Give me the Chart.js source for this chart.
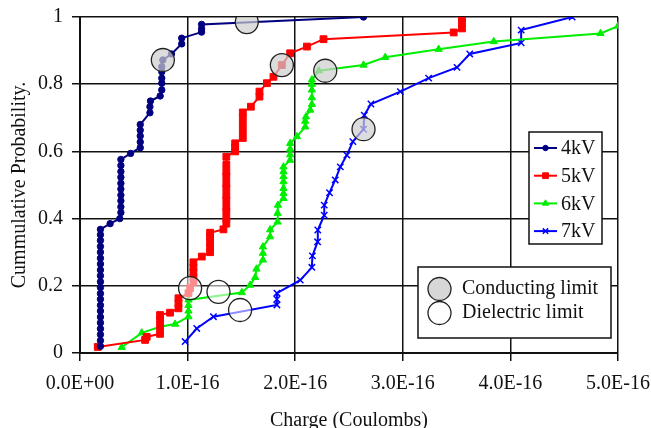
<!DOCTYPE html>
<html>
<head>
<meta charset="utf-8">
<script src="https://cdn.jsdelivr.net/npm/chart.js@4/dist/chart.umd.min.js"></script>
<style>
  html, body { margin: 0; padding: 0; background: #fff; }
  #wrap { width: 651px; height: 428px; }
</style>
</head>
<body>
<div id="wrap"><canvas id="c" width="651" height="428"></canvas></div>
<script>
// Charge values are in units of 1E-16 Coulombs
const xTickLabels = ["0.0E+00", "1.0E-16", "2.0E-16", "3.0E-16", "4.0E-16", "5.0E-16"];
const yTickLabels = ["0", "0.2", "0.4", "0.6", "0.8", "1"];
const seriesNames = ["4kV", "5kV", "6kV", "7kV"];

const charge4kV = [0.19,0.19,0.19,0.19,0.19,0.19,0.19,0.19,0.19,0.19,0.19,0.19,0.19,0.19,0.19,0.19,0.19,0.19,0.19,0.19,0.19,
  0.28,0.37,0.38,0.38,0.38,0.38,0.38,0.38,0.38,0.38,0.38,0.38,
  0.47,0.56,0.56,0.56,0.56,0.56,0.65,0.65,0.655,
  0.745,0.76,0.76,0.76,0.76,0.76,0.77,0.85,0.945,0.945,1.13,1.13,1.13,2.635];
const prob4kV = [0.020,0.037,0.055,0.072,0.090,0.107,0.125,0.142,0.160,0.177,0.195,0.212,0.230,0.247,0.265,0.282,0.300,0.317,0.335,0.352,0.368,
  0.385,0.400,0.418,0.435,0.453,0.470,0.488,0.505,0.523,0.540,0.558,0.576,
  0.594,0.611,0.628,0.646,0.663,0.680,0.715,0.733,0.750,
  0.765,0.783,0.803,0.818,0.837,0.852,0.872,0.890,0.920,0.937,0.955,0.965,0.978,1.000];

const charge5kV = [0.165,0.605,0.62,0.744,0.744,0.744,0.744,0.837,0.915,0.915,0.915,1.008,1.023,
  1.054,1.054,1.054,1.054,1.054,1.132,1.209,1.209,1.209,1.209,1.209,1.333,
  1.36,1.36,1.36,1.36,1.36,1.36,1.36,1.36,1.36,1.36,1.36,1.36,
  1.442,1.442,1.442,1.513,1.513,1.513,1.513,1.513,1.588,1.668,1.668,1.737,1.798,1.876,1.953,2.109,2.263,3.473,3.55,3.55,3.55];
const prob5kV = [0.018,0.039,0.048,0.057,0.078,0.098,0.113,0.120,0.133,0.148,0.163,0.178,0.193,
  0.210,0.225,0.240,0.255,0.270,0.287,0.300,0.315,0.330,0.345,0.358,0.368,
  0.385,0.400,0.420,0.435,0.455,0.470,0.490,0.505,0.525,0.540,0.560,0.584,
  0.600,0.612,0.624,0.640,0.660,0.680,0.700,0.716,0.733,0.763,0.778,0.803,0.822,0.857,0.892,0.912,0.934,0.954,0.966,0.983,1.000];

const charge6kV = [0.388,0.574,0.744,0.884,1.008,1.008,1.008,1.008,1.504,1.581,1.628,1.64,1.70,1.70,1.70,1.767,1.767,1.836,1.836,1.84,
  1.891,1.891,1.891,1.891,1.891,1.891,1.891,1.953,1.953,1.953,1.953,2.016,2.093,2.093,2.10,2.14,2.155,2.155,2.155,2.155,2.155,
  2.22,2.635,2.837,3.333,3.845,4.837,5.0];
const prob6kV = [0.017,0.060,0.078,0.086,0.108,0.125,0.142,0.158,0.180,0.202,0.225,0.250,0.277,0.297,0.316,0.346,0.367,0.390,0.416,0.440,
  0.460,0.475,0.490,0.510,0.525,0.540,0.554,0.574,0.590,0.607,0.624,0.644,0.673,0.690,0.703,0.723,0.740,0.760,0.783,0.800,0.813,
  0.840,0.857,0.880,0.904,0.927,0.951,0.973];

const charge7kV = [0.977,1.085,1.24,1.83,1.83,1.83,2.047,2.155,2.16,2.208,2.21,2.27,2.27,2.319,2.372,2.419,2.48,2.536,2.635,2.642,2.704,2.977,3.24,3.504,3.622,4.1,4.1,4.574];
const prob7kV = [0.034,0.073,0.108,0.143,0.160,0.178,0.217,0.255,0.289,0.331,0.366,0.410,0.440,0.477,0.515,0.554,0.589,0.629,0.666,0.708,0.741,0.778,0.818,0.850,0.890,0.923,0.961,1.000];

const conductingCharge = [0.77, 1.55, 1.876, 2.279, 2.635];
const conductingProb = [0.872, 0.985, 0.857, 0.840, 0.666];
const dielectricCharge = [1.023, 1.287, 1.488];
const dielectricProb = [0.193, 0.182, 0.128];

const colors = ["#000080", "#ff0000", "#00ee00", "#0000ff"];
const styles = ["circle", "rect", "triangle", "crossRot"];
const radii = [3.2, 4.8, 4.2, 4.5];

function pts(xs, ys) { return xs.map((x, i) => ({ x: x, y: ys[i] })); }

const allX = [charge4kV, charge5kV, charge6kV, charge7kV];
const allY = [prob4kV, prob5kV, prob6kV, prob7kV];

const datasets = seriesNames.map((name, i) => ({
  label: name,
  data: pts(allX[i], allY[i]),
  showLine: true,
  borderColor: colors[i],
  backgroundColor: colors[i],
  borderWidth: 2,
  pointStyle: styles[i],
  pointRadius: radii[i],
  pointBorderWidth: i === 3 ? 1.5 : 1,
  pointBorderColor: colors[i],
  pointBackgroundColor: colors[i],
  order: 1
}));
datasets.push({
  label: "Conducting limit",
  data: pts(conductingCharge, conductingProb),
  showLine: false,
  pointStyle: "circle",
  pointRadius: 11.5,
  pointBorderWidth: 1.3,
  pointBorderColor: "#222",
  pointBackgroundColor: "rgba(205,205,205,0.7)",
  order: -1
});
datasets.push({
  label: "Dielectric limit",
  data: pts(dielectricCharge, dielectricProb),
  showLine: false,
  pointStyle: "circle",
  pointRadius: 11.5,
  pointBorderWidth: 1.3,
  pointBorderColor: "#222",
  pointBackgroundColor: "rgba(255,255,255,0.55)",
  order: -1
});

const FONT = "'Liberation Serif', 'Times New Roman', serif";

const legendPlugin = {
  id: "customLegends",
  afterDatasetsDraw(chart) {
    const ctx = chart.ctx;
    ctx.save();
    // series legend
    ctx.fillStyle = "#fff";
    ctx.strokeStyle = "#111";
    ctx.lineWidth = 1.5;
    ctx.fillRect(529, 132, 73, 112);
    ctx.strokeRect(529, 132, 73, 112);
    ctx.font = "20px " + FONT;
    ctx.textBaseline = "middle";
    ctx.textAlign = "left";
    seriesNames.forEach((name, i) => {
      const y = 148 + i * 27.7;
      ctx.strokeStyle = colors[i];
      ctx.fillStyle = colors[i];
      ctx.lineWidth = 2;
      ctx.beginPath();
      ctx.moveTo(534, y);
      ctx.lineTo(557, y);
      ctx.stroke();
      ctx.lineWidth = i === 3 ? 1.5 : 1;
      Chart.helpers.drawPoint(ctx, { pointStyle: styles[i], radius: radii[i] * 0.85, rotation: 0, borderWidth: ctx.lineWidth }, 545.5, y);
      ctx.fillStyle = "#111";
      ctx.fillText(name, 561, y + 1);
    });
    // limit legend
    ctx.fillStyle = "#fff";
    ctx.strokeStyle = "#111";
    ctx.lineWidth = 1.5;
    ctx.fillRect(418, 267, 193, 71);
    ctx.strokeRect(418, 267, 193, 71);
    const items = [["Conducting limit", "rgb(215,215,215)", 289], ["Dielectric limit", "#fff", 313]];
    items.forEach(([t, fill, y]) => {
      ctx.beginPath();
      ctx.arc(439.5, y, 11.5, 0, Math.PI * 2);
      ctx.fillStyle = fill;
      ctx.fill();
      ctx.strokeStyle = "#222";
      ctx.lineWidth = 1.3;
      ctx.stroke();
      ctx.fillStyle = "#111";
      ctx.fillText(t, 462, y);
    });
    ctx.restore();
  }
};

new Chart(document.getElementById("c"), {
  type: "scatter",
  data: { datasets: datasets },
  options: {
    responsive: false,
    devicePixelRatio: 1,
    animation: false,
    layout: { padding: { left: 0, top: 17, right: 33, bottom: 0 } },
    plugins: { legend: { display: false }, tooltip: { enabled: false } },
    scales: {
      x: {
        type: "linear",
        min: 0, max: 5,
        afterFit(s) { s.height = 75; s.paddingLeft = 0; s.paddingRight = 0; },
        ticks: {
          stepSize: 1,
          padding: 11,
          color: "#111",
          font: { family: FONT, size: 20 },
          maxRotation: 0,
          callback: (v, i) => xTickLabels[i]
        },
        grid: { color: "#111", lineWidth: 1.5, tickLength: 8 },
        border: { color: "#111", width: 2 },
        title: {
          display: true,
          text: "Charge (Coulombs)",
          color: "#111",
          font: { family: FONT, size: 20 },
          padding: { top: 0, bottom: -5 }
        }
      },
      y: {
        type: "linear",
        min: 0, max: 1,
        afterFit(s) { s.width = 80; s.paddingTop = 0; s.paddingBottom = 0; },
        ticks: {
          stepSize: 0.2,
          padding: 9,
          color: "#111",
          font: { family: FONT, size: 20 },
          callback: (v, i) => yTickLabels[i]
        },
        grid: { color: "#111", lineWidth: 1.5, tickLength: 8 },
        border: { color: "#111", width: 2 },
        title: {
          display: true,
          text: "Cummulative Probability.",
          color: "#111",
          font: { family: FONT, size: 20 },
          padding: { top: 8, bottom: 0 }
        }
      }
    }
  },
  plugins: [legendPlugin]
});
</script>
</body>
</html>
